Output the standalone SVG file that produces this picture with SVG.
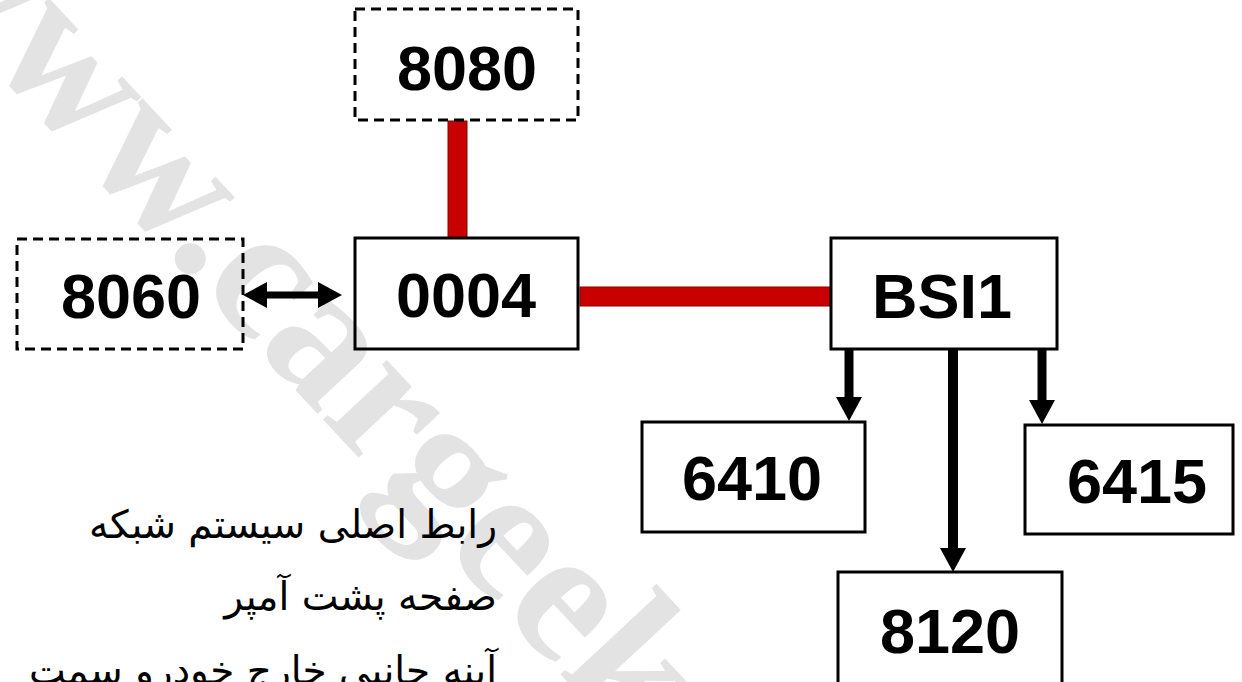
<svg xmlns="http://www.w3.org/2000/svg" width="1242" height="682" viewBox="0 0 1242 682">
<style>
.box{fill:none;stroke:#000;stroke-width:3}
.dash{fill:none;stroke:#000;stroke-width:3;stroke-dasharray:10 6}
.lbl{font-family:"Liberation Sans",Arial,sans-serif;font-weight:bold;font-size:63px;fill:#000;text-anchor:middle}
.bus{fill:#c80000;stroke:#8a0000;stroke-width:1}
.arr{stroke:#000;fill:none}
.fa{font-family:"DejaVu Sans","Noto Sans",sans-serif;font-size:39px;fill:#000;text-anchor:end}
.wm{font-family:"Liberation Serif","Times New Roman",serif;font-weight:bold;font-size:190px;fill:#e3e3e3}
</style>
<defs>
<marker id="ah" viewBox="0 0 24 26" refX="2" refY="13" markerWidth="24" markerHeight="26" markerUnits="userSpaceOnUse" orient="auto-start-reverse">
<path d="M0,0 L24,13 L0,26 z" fill="#000"/>
</marker>
</defs>
<rect width="1242" height="682" fill="#fff"/>
<text class="wm" transform="rotate(47)" x="-106" y="50">www.cargeek</text>

<g id="connectors">
<rect class="bus" x="448" y="121" width="19" height="117"/>
<rect class="bus" x="580" y="287" width="250" height="19"/>
<line class="arr" x1="265" y1="295" x2="320" y2="295" stroke-width="7" marker-start="url(#ah)" marker-end="url(#ah)"/>
<line class="arr" x1="849" y1="350" x2="849" y2="399" stroke-width="9" marker-end="url(#ah)"/>
<line class="arr" x1="953" y1="350" x2="953" y2="550" stroke-width="10" marker-end="url(#ah)"/>
<line class="arr" x1="1042" y1="350" x2="1042" y2="402" stroke-width="9" marker-end="url(#ah)"/>
</g>

<g id="n8080"><rect class="dash" x="355" y="9" width="223" height="111"/><text class="lbl" x="467" y="90">8080</text></g>
<g id="n8060"><rect class="dash" x="17" y="239" width="226" height="110"/><text class="lbl" x="131" y="318">8060</text></g>
<g id="n0004"><rect class="box" x="355" y="238" width="223" height="111"/><text class="lbl" x="466" y="317">0004</text></g>
<g id="nBSI1"><rect class="box" x="831" y="238" width="226" height="111"/><text class="lbl" x="942" y="318">BSI1</text></g>
<g id="n6410"><rect class="box" x="642" y="422" width="223" height="110"/><text class="lbl" x="752" y="500">6410</text></g>
<g id="n6415"><rect class="box" x="1025" y="425" width="208" height="109"/><text class="lbl" x="1137" y="503">6415</text></g>
<g id="n8120"><rect class="box" x="838" y="572" width="224" height="120"/><text class="lbl" x="950" y="653">8120</text></g>

<g id="caption">
<text class="fa" x="497" y="538">رابط اصلی سیستم شبکه</text>
<text class="fa" x="497" y="610">صفحه پشت آمپر</text>
<text class="fa" x="497" y="684">آینه جانبی خارج خودرو سمت</text>
</g>
</svg>
